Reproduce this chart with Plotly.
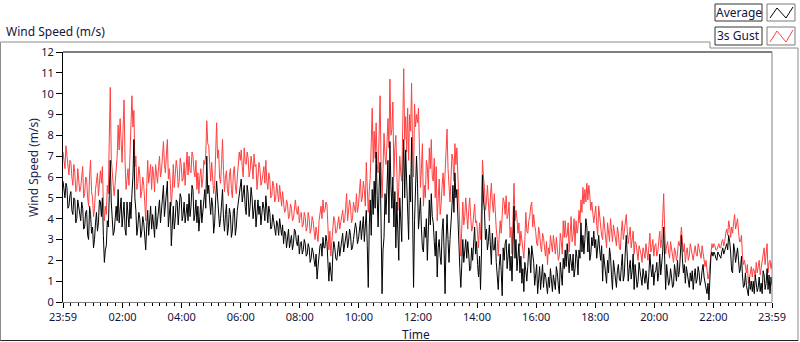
import plotly.graph_objects as go
import pandas as pd

# ---------------- data ----------------
# Samples every 2 minutes starting 23:59: the plain arrays hold the samples at
# 4-minute steps, the *_M arrays the samples 2 minutes after each of those.
START = "2015-06-01 23:59"
SAMPLE_MINUTES = 2

AVG_A = [5.8,5.0,5.5,4.6,5.3,4.2,4.9,4.0,4.6,3.9, 4.5,3.6,4.4,3.0,4.2,3.6,3.0,4.3,3.8,4.8,
         5.0,1.9,2.7,3.6,6.8,4.0,3.4,4.6,5.4,4.3, 3.6,4.8,3.2,4.3,4.8,5.2,7.8,4.4,3.6,4.0,
         3.4,3.8,2.5,4.4,3.9,3.5,3.7,4.6,3.9,4.9, 4.4,5.6,4.6,5.8,4.2,2.7,4.6,4.0,4.8,4.4,
         5.0,4.2,3.8,4.7,5.2,4.6,5.4,4.2,3.8,3.4, 4.9,4.3,5.4,7.0,5.6,4.2,4.6,3.8,5.8,4.4,
         4.0,5.4,3.4,4.7,3.6,4.2,3.4,4.5,3.6,4.8]
AVG_A_M = [5.2,5.7,4.5,5.1,4.4,5.0,3.8,4.9,4.1,4.8, 3.5,4.3,3.2,4.6,3.3,2.6,3.8,3.4,4.9,4.1,
           3.2,2.5,3.9,5.1,4.8,3.2,4.2,3.9,3.8,5.0, 4.2,3.5,4.8,3.6,4.0,6.0,5.0,3.2,4.3,3.1,
           4.1,3.1,3.6,3.2,4.6,4.2,3.1,3.5,4.5,3.8, 4.9,4.1,5.1,3.6,4.8,3.8,3.5,4.9,3.7,5.2,
           3.9,4.8,4.4,3.9,4.1,5.6,3.9,4.9,4.6,4.1, 3.8,4.9,4.5,5.2,4.8,5.0,3.3,4.9,5.0,3.6,
           4.6,4.0,4.2,3.2,4.5,3.1,4.4,3.2,4.4,5.2]
GUST_A = [7.2,6.4,7.0,6.1,6.7,5.6,6.2,5.4,6.0,5.5, 6.5,5.2,5.9,4.6,6.8,5.0,4.5,5.8,5.1,6.3,
          6.5,3.9,4.2,5.2,10.3,6.0,5.1,6.6,8.5,8.8, 6.7,9.7,5.4,6.4,7.0,9.9,9.2,7.0,5.7,6.1,
          5.3,5.6,3.9,6.8,6.2,5.4,6.1,6.6,5.7,7.0, 6.3,7.7,6.2,7.8,6.4,4.6,6.6,6.0,6.4,5.8,
          6.6,5.9,5.6,7.2,7.0,6.2,7.0,6.0,5.4,5.2, 6.4,5.9,6.6,8.7,7.5,5.8,6.1,5.6,8.6,7.3,
          5.7,7.8,5.3,6.3,5.1,6.4,5.0,6.5,5.2,6.6]
GUST_A_M = [6.9,7.5,6.3,6.8,6.0,6.6,5.3,6.4,5.3,6.1, 5.0,6.0,5.0,6.1,5.3,4.1,5.4,6.2,5.9,5.7,
            4.8,4.6,5.6,7.8,6.9,5.6,5.8,7.0,7.3,7.5, 8.3,6.8,5.9,5.6,8.0,8.4,6.5,5.4,6.5,5.0,
            6.0,4.8,5.5,5.7,6.6,6.5,5.3,5.9,6.5,6.0, 7.0,6.6,7.1,5.9,5.7,5.4,5.5,6.8,5.5,6.9,
            5.8,6.7,6.5,6.1,6.3,7.2,6.3,6.8,6.2,6.0, 5.5,6.8,7.1,7.6,6.6,6.7,5.2,7.0,6.9,6.0,
            6.6,6.3,6.0,5.4,6.1,5.4,6.2,5.6,6.0,7.2]

AVG_B = [5.4,4.8,5.6,4.2,5.2,4.6,5.0,4.4,3.6,4.9, 4.6,4.1,4.5,5.1,3.8,4.3,3.6,3.9,3.2,3.7,
         4.0,3.2,2.8,3.3,3.0,2.6,3.2,2.8,3.4,2.7, 2.3,2.9,2.5,2.8,2.3,2.6,2.1,2.4,1.7,1.1,
         2.2,2.8,3.1,2.6,2.9,1.0,1.4,2.3,2.6,2.0, 2.9,2.5,3.3,2.7,3.4,2.9,3.2,2.6,3.3,3.5,
         3.0,3.9,3.5,2.9,4.4,0.7,4.9,5.4,5.8,7.2, 3.6,6.7,0.4,3.1,4.2,6.8,7.7,4.5,3.6,2.6,
         3.6,5.0,2.9,7.8,7.3,4.7,6.1,7.9,0.7,5.6]
AVG_B_M = [5.9,5.3,4.6,5.6,4.1,5.5,4.0,4.9,4.4,4.2, 3.7,4.8,3.9,4.4,4.6,3.5,4.2,3.4,3.9,3.2,
           3.6,3.7,3.4,2.6,3.5,2.9,2.5,3.5,2.9,3.2, 2.8,2.3,3.0,2.2,2.8,1.9,2.6,2.0,2.3,1.7,
           2.7,2.2,2.6,3.2,2.0,1.9,1.0,2.9,2.1,2.6, 2.2,3.0,2.4,3.0,2.6,3.5,2.5,3.0,3.8,2.8,
           3.5,3.0,4.1,3.6,2.7,3.6,3.2,4.2,4.5,5.1, 5.5,3.8,2.5,5.2,5.5,3.8,5.6,6.0,5.3,4.8,
           2.0,3.8,5.9,5.0,5.8,3.0,4.8,4.6,3.9,7.0]
GUST_B = [6.8,6.5,7.4,6.6,6.9,6.3,6.6,7.1,6.6,6.0, 6.4,5.8,6.5,6.8,5.4,5.9,5.1,5.6,5.0,5.3,
          5.6,4.6,4.9,4.4,4.7,4.1,4.5,4.0,4.9,4.2, 3.8,4.3,3.7,4.1,3.6,4.0,3.5,3.9,3.0,3.3,
          3.9,4.6,4.9,4.4,4.7,2.5,2.2,3.6,3.9,3.4, 4.1,3.8,4.4,3.9,5.2,4.3,4.6,4.0,4.5,5.2,
          4.6,5.9,5.0,5.4,6.7,4.3,6.0,9.3,8.2,8.6, 6.2,9.9,5.0,8.1,6.6,8.8,10.7,8.3,6.0,8.0,
          4.4,7.0,5.8,11.2,8.9,9.3,9.0,10.5,6.0,8.4]
GUST_B_M = [7.3,6.0,6.7,7.2,6.0,7.0,5.9,6.5,5.4,6.7, 5.6,6.3,5.7,5.8,6.2,5.0,5.8,4.8,5.7,4.8,
            5.0,5.3,4.3,4.9,4.0,4.7,3.9,4.5,4.4,4.6, 4.2,3.6,4.3,3.4,4.3,3.3,4.1,3.4,3.6,2.9,
            4.3,4.0,4.3,4.8,3.7,3.4,2.9,4.1,3.3,3.8, 3.5,4.3,3.8,4.5,3.9,4.9,3.8,4.8,4.3,4.3,
            5.1,4.8,5.8,4.6,5.5,5.3,7.6,6.7,6.9,6.6, 8.0,6.5,6.4,7.0,7.6,7.4,8.0,9.6,7.4,6.3,
            5.5,6.2,8.4,7.8,7.2,6.8,8.2,7.3,9.5,9.0]

AVG_C = [5.7,4.2,3.5,2.4,3.1,2.0,4.9,5.2,3.8,2.2, 1.2,3.0,1.8,4.0,0.4,4.2,1.9,3.6,5.6,6.2,
         5.4,2.8,0.7,3.0,2.5,2.1,2.3,1.6,2.0,3.6, 2.9,1.2,0.6,6.1,4.4,3.5,2.9,2.5,3.3,2.5,
         1.9,0.6,2.3,0.3,2.0,3.0,2.1,1.5,1.0,4.6, 3.0,2.2,1.4,0.9,0.5,1.5,1.7,2.3,2.7,1.9,
         1.2,0.4,1.7,1.2,0.7,1.3,0.4,0.7,1.0,1.3, 0.6,1.4,0.4,1.5,2.1,2.5,2.8,1.4,2.0,2.3,
         1.6,2.1,2.5,3.8,3.2,3.0,3.6,3.4,2.3,2.7]
AVG_C_M = [3.5,5.0,2.6,3.6,4.0,3.1,3.7,4.1,2.9,3.4, 2.6,2.2,3.4,2.5,2.9,3.0,3.0,4.6,4.3,5.0,
           3.9,1.6,2.4,1.9,3.0,2.9,1.5,2.6,2.8,2.3, 1.8,2.2,2.4,4.9,3.0,2.5,3.7,1.8,2.5,3.1,
           1.4,1.7,1.5,2.6,2.8,1.6,2.8,2.2,2.6,2.1, 1.5,2.8,2.2,1.6,1.9,1.0,2.6,1.4,2.3,0.8,
           1.8,1.2,0.6,1.8,1.4,0.6,1.2,1.6,0.5,1.0, 1.7,0.8,1.9,0.8,1.6,1.7,2.0,2.3,1.5,1.2,
           2.5,1.3,2.1,2.4,2.3,4.0,2.4,2.0,3.1,3.4]
GUST_C = [8.6,7.0,6.4,4.6,5.0,6.5,7.4,7.8,5.8,5.0, 3.9,5.9,4.7,6.2,6.0,8.3,5.6,5.9,6.8,7.6,
          7.4,4.6,2.2,4.8,4.1,4.2,4.4,4.1,3.6,4.7, 3.9,2.6,3.0,6.8,5.5,4.8,4.4,5.0,4.8,5.2,
          3.5,2.2,3.9,4.3,4.8,5.1,4.2,3.1,2.3,5.7, 4.4,3.3,2.7,3.0,2.1,4.3,3.3,4.1,4.8,4.2,
          3.4,2.7,3.3,2.4,3.1,2.2,1.8,2.3,2.8,3.2, 2.3,2.6,2.2,2.9,3.9,3.9,3.2,2.4,4.1,3.2,
          2.7,3.3,4.4,4.9,5.5,5.4,5.7,5.6,4.4,4.1]
GUST_C_M = [9.3,5.5,7.6,5.6,6.8,5.4,6.4,6.0,6.9,6.5, 4.8,4.2,5.6,5.1,7.2,6.4,4.8,7.1,5.8,6.6,
            6.0,3.4,3.6,3.7,5.0,3.5,5.0,3.4,4.4,3.8, 3.3,3.8,4.5,6.0,4.4,5.6,3.9,5.7,4.3,4.0,
            3.0,3.2,3.3,5.0,4.2,4.0,4.8,3.6,3.6,3.9, 4.0,3.8,3.4,2.6,3.0,3.4,3.9,4.6,3.6,3.7,
            2.8,3.6,2.7,3.3,2.6,2.9,2.6,3.2,2.4,2.7, 3.1,2.0,3.3,2.3,3.1,3.1,3.8,3.3,2.9,4.0,
            3.9,3.6,3.8,4.3,4.7,4.8,4.9,5.1,4.8,3.8]

AVG_D = [2.6,2.1,3.2,2.0,1.0,1.8,0.9,1.4,2.2,0.6, 1.6,0.7,1.8,1.0,2.3,1.3,3.2,1.0,2.0,1.5,
         0.6,1.3,1.0,1.5,0.8,1.3,1.5,0.6,2.3,1.2, 0.8,1.5,1.0,2.3,1.8,3.6,0.6,1.3,1.0,1.2,
         0.8,1.4,2.0,1.5,3.2,1.4,0.9,1.3,0.7,1.0, 0.6,1.6,1.1,1.4,1.0,1.8,0.9,0.4,0.1,2.2,
         2.2,2.3,2.0,2.3,2.1,2.6,2.5,2.8,3.2,2.4, 1.4,2.5,2.2,2.0,1.6,1.3,0.8,0.8,0.3,0.6,
         0.5,0.4,0.9,0.7,0.5,0.4,1.3,0.9,0.6,0.4, 0.8]
AVG_D_M = [3.0,2.7,2.5,2.7,2.3,1.2,2.0,2.6,1.3,2.0, 1.0,1.5,1.1,1.7,1.0,2.4,2.2,1.6,1.1,2.3,
           1.8,0.7,1.9,1.0,1.6,0.9,1.1,1.4,1.6,1.8, 1.4,1.9,1.4,1.3,2.4,2.2,1.8,0.8,1.6,0.7,
           1.8,1.0,1.2,2.2,2.1,1.8,1.7,0.8,1.4,1.5, 1.2,0.9,1.7,0.8,1.5,1.2,0.5,0.9,1.2,2.4,
           2.4,2.1,2.4,2.2,2.4,2.3,2.7,2.5,2.9,1.5, 2.8,1.9,2.6,1.4,2.2,0.7,1.4,0.5,1.2,1.0,
           1.0,1.3,0.5,1.2,0.9,1.5,0.6,1.6,1.3,1.2]
GUST_D = [4.2,3.7,4.6,3.8,3.0,3.6,2.6,3.3,4.0,2.9, 3.4,2.7,3.3,2.5,3.9,3.5,4.2,2.8,3.6,3.0,
          2.3,2.8,2.0,2.5,1.9,2.4,2.8,2.0,3.3,2.6, 2.2,2.8,2.4,3.4,3.0,5.2,2.3,2.9,2.1,2.6,
          1.9,2.4,2.3,2.7,3.6,2.4,1.9,2.6,2.2,2.5, 2.0,2.7,2.2,2.6,2.1,2.4,1.7,1.5,1.3,2.6,
          2.6,2.7,2.5,2.8,2.6,3.0,2.9,3.5,3.9,3.1, 3.3,4.2,3.7,3.4,2.9,2.2,2.0,1.4,0.9,1.4,
          1.2,1.5,1.9,1.7,1.3,1.8,2.6,2.4,1.4,2.0, 1.9]
GUST_D_M = [4.6,3.2,4.0,3.2,4.1,2.9,3.8,2.9,3.3,3.7, 2.9,3.6,2.6,3.4,3.0,3.8,3.4,3.2,2.6,3.4,
            2.9,2.3,2.7,2.3,2.6,2.1,2.3,2.7,2.4,3.0, 2.7,2.2,2.9,2.6,4.0,3.5,2.7,2.4,2.9,2.3,
            2.6,2.0,2.9,3.0,2.9,2.8,2.4,2.0,2.8,2.2, 2.4,2.3,2.8,2.3,2.7,2.2,2.0,1.1,1.9,2.8,
            2.8,2.5,2.7,2.6,2.9,2.7,3.3,3.2,3.6,3.6, 3.8,3.5,4.0,2.9,3.2,1.8,1.6,1.8,1.1,1.7,
            1.6,1.2,1.4,2.0,1.6,2.2,1.8,2.8,1.9,1.6]

TICK_TIMES = ["2015-06-01 23:59", "2015-06-02 02:00", "2015-06-02 04:00",
              "2015-06-02 06:00", "2015-06-02 08:00", "2015-06-02 10:00",
              "2015-06-02 12:00", "2015-06-02 14:00", "2015-06-02 16:00",
              "2015-06-02 18:00", "2015-06-02 20:00", "2015-06-02 22:00",
              "2015-06-02 23:59"]
TICK_LABELS = ["23:59", "02:00", "04:00", "06:00", "08:00", "10:00", "12:00",
               "14:00", "16:00", "18:00", "20:00", "22:00", "23:59"]


def interleave(main, mid):
    out = []
    for k, v in enumerate(main):
        out.append(v)
        if k < len(mid):
            out.append(mid[k])
    return out


average = (interleave(AVG_A, AVG_A_M) + interleave(AVG_B, AVG_B_M)
           + interleave(AVG_C, AVG_C_M) + interleave(AVG_D, AVG_D_M))
gust = (interleave(GUST_A, GUST_A_M) + interleave(GUST_B, GUST_B_M)
        + interleave(GUST_C, GUST_C_M) + interleave(GUST_D, GUST_D_M))
assert len(average) == len(gust) == 721, (len(average), len(gust))
times = pd.date_range(START, periods=len(average), freq=f"{SAMPLE_MINUTES}min")

# ---------------- figure ----------------
W, H = 800, 342
L, R, T, B = 63, 772, 52, 302
FONT = "Noto Sans"
TXT = "#14143c"


def px(x):
    return (x - L) / (R - L)


def py(y):
    return (B - y) / (B - T)


fig = go.Figure()
fig.add_trace(go.Scatter(x=times, y=gust, mode="lines", name="3s Gust",
                         line=dict(color="#ff4040", width=1)))
fig.add_trace(go.Scatter(x=times, y=average, mode="lines", name="Average",
                         line=dict(color="#000000", width=1)))

fig.update_layout(
    width=W, height=H,
    margin=dict(l=L, r=W - R, t=T, b=H - B, pad=0, autoexpand=False),
    paper_bgcolor="white", plot_bgcolor="white",
    showlegend=False, hovermode=False,
    font=dict(family=FONT, size=11, color=TXT),
)
fig.update_xaxes(
    type="date", range=[TICK_TIMES[0], TICK_TIMES[-1]],
    tickmode="array", tickvals=TICK_TIMES, ticktext=TICK_LABELS,
    ticks="outside", ticklen=5, tickcolor="black", tickwidth=1,
    minor=dict(ticks="outside", ticklen=3, tickcolor="black",
               dtick=15 * 60 * 1000, tick0="2015-06-02 00:00", showgrid=False),
    showgrid=False, zeroline=False, automargin=False,
    showline=True, linecolor="#808080", linewidth=1,
    tickfont=dict(family=FONT, size=11, color=TXT),
)
fig.update_yaxes(
    range=[0, 12], dtick=1, tick0=0,
    ticks="outside", ticklen=6, tickcolor="black", tickwidth=1,
    showgrid=False, zeroline=False, automargin=False,
    showline=True, linecolor="black", linewidth=1,
    tickfont=dict(family=FONT, size=11, color=TXT),
)

shapes = []


def line(x0, y0, x1, y1, color, width=1):
    shapes.append(dict(type="line", xref="paper", yref="paper",
                       x0=px(x0), y0=py(y0), x1=px(x1), y1=py(y1),
                       line=dict(color=color, width=width), layer="above"))


# plot frame (top/left dark, right gray)
line(L, T, R, T, "black")
line(R, T, R, B, "#808080")
# outer panel frame
line(0.5, 42, 710, 42, "#8c8c8c")
line(710, 42, 710, 48, "#8c8c8c")
line(710, 48, 798, 48, "#8c8c8c")
line(798, 48, 798, 341, "#8c8c8c")
line(0.5, 42, 0.5, 341, "#8c8c8c")
line(0.5, 340.5, 798, 340.5, "#222222")


def rect(x0, y0, x1, y1, color):
    shapes.append(dict(type="rect", xref="paper", yref="paper",
                       x0=px(x0), y0=py(y0), x1=px(x1), y1=py(y1),
                       line=dict(color=color, width=1), fillcolor="white"))


# legend boxes
rect(715, 4, 762, 21, "#333333")
rect(767, 4, 795, 21, "#7a7a7a")
rect(715, 27, 762, 45, "#333333")
rect(767, 27, 795, 45, "#7a7a7a")


def zigzag(pts, color):
    path = "M " + " L ".join(f"{px(a):.5f},{py(b):.5f}" for a, b in pts)
    shapes.append(dict(type="path", xref="paper", yref="paper", path=path,
                       line=dict(color=color, width=1)))


zigzag([(770, 18), (777, 8), (786, 18), (793, 7)], "black")
zigzag([(770, 42), (777, 31), (786, 42), (793, 30)], "#ff4040")

fig.update_layout(shapes=shapes)

ann = [
    dict(text="Wind Speed (m/s)", x=px(4), y=py(32), xanchor="left", yanchor="middle",
         font=dict(size=12, color=TXT)),
    dict(text="Average", x=px(738.5), y=py(12.5), xanchor="center", yanchor="middle",
         font=dict(size=12, color=TXT)),
    dict(text="3s Gust", x=px(738.5), y=py(36), xanchor="center", yanchor="middle",
         font=dict(size=12, color=TXT)),
    dict(text="Time", x=px(416), y=py(334), xanchor="center", yanchor="middle",
         font=dict(size=12, color=TXT)),
    dict(text="Wind Speed (m/s)", x=px(33), y=py(168), xanchor="center", yanchor="middle",
         textangle=-90, font=dict(size=12, color="#1e1e55")),
]
for a in ann:
    a.update(xref="paper", yref="paper", showarrow=False)
fig.update_layout(annotations=ann)

fig.write_html(
    "out.html",
    config={"displayModeBar": False, "staticPlot": True},
    post_script="document.body.style.margin='0px';document.body.style.overflow='hidden';",
)
